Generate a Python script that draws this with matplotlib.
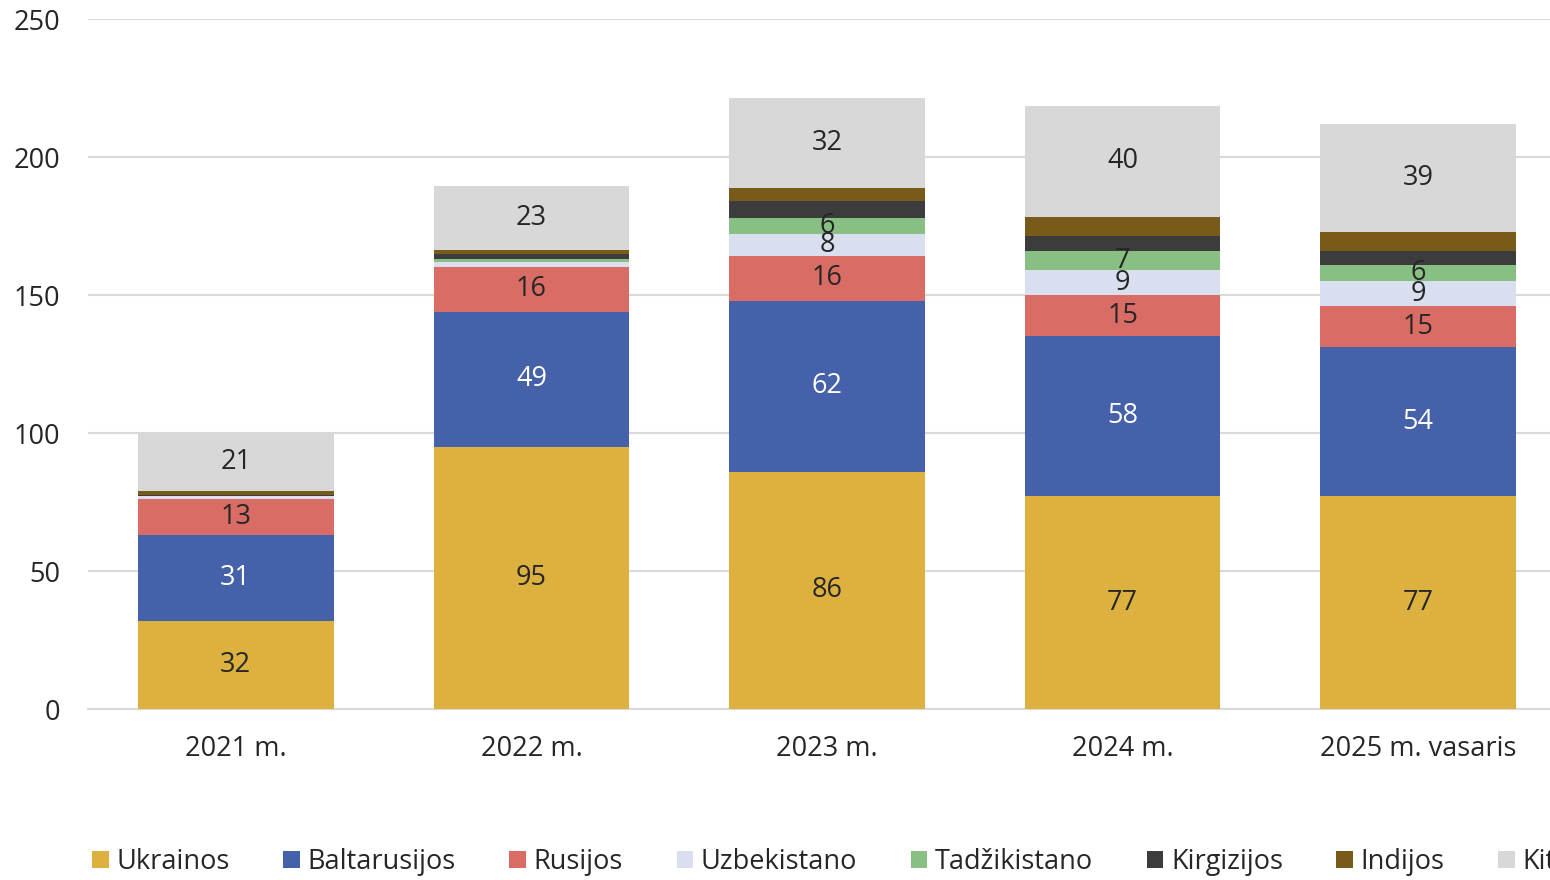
import matplotlib.pyplot as plt
import numpy as np

plt.rcParams['font.family'] = ['Open Sans', 'DejaVu Sans']

years = ['2021 m.', '2022 m.', '2023 m.', '2024 m.', '2025 m. vasaris']
series_names = ['Ukrainos', 'Baltarusijos', 'Rusijos', 'Uzbekistano',
                'Tadžikistano', 'Kirgizijos', 'Indijos', 'Kitos']

ukrainos = [32, 95, 86, 77, 77]
baltarusijos = [31, 49, 62, 58, 54]
rusijos = [13, 16, 16, 15, 15]
uzbekistano = [1.0, 1.8, 8, 9, 9]
tadzikistano = [0.3, 1.4, 6, 7, 6]
kirgizijos = [0.2, 1.8, 6, 5.2, 4.8]
indijos = [1.5, 1.4, 4.8, 7.2, 7]
kitos = [21, 23, 32.4, 40, 39]

values = [ukrainos, baltarusijos, rusijos, uzbekistano,
          tadzikistano, kirgizijos, indijos, kitos]
colors = ['#DCB13F', '#4561A9', '#D96C64', '#D9DFEF',
          '#88BF82', '#3C3C3C', '#795B19', '#D8D8D8']
label_colors = ['#262626', 'white', '#262626', '#262626',
                '#262626', None, None, '#262626']

fs = 19.5

fig = plt.figure(figsize=(15.5, 8.8), dpi=100)
ax = fig.add_axes([88 / 1550, 1 - 709 / 880, 1478 / 1550, 690 / 880])

x = np.arange(len(years))
bottom = np.zeros(len(years))
handles = []
for name, vals, col, lcol in zip(series_names, values, colors, label_colors):
    vals = np.array(vals, dtype=float)
    bars = ax.bar(x, vals, 0.662, bottom=bottom, color=col, label=name, zorder=3)
    handles.append(bars)
    # only the larger segments carry labels, like the original
    if lcol is not None:
        for xi, b, v in zip(x, bottom, vals):
            if v >= 5:
                ax.text(xi, b + v / 2, f'{v:.0f}', ha='center', va='center',
                        fontsize=fs, color=lcol, zorder=4)
    bottom += vals

ax.set_xlim(-0.5, 4.5)
ax.set_ylim(0, 250)
ax.set_yticks(range(0, 251, 50))
ax.set_xticks(x)
ax.set_xticklabels(years)
ax.yaxis.grid(True, color='#D9D9D9', lw=1.5, zorder=0)
for s in ['left', 'right', 'top']:
    ax.spines[s].set_visible(False)
ax.spines['bottom'].set_color('#D9D9D9')
ax.spines['bottom'].set_linewidth(1.5)
ax.tick_params(axis='both', length=0, labelsize=fs, colors='#262626')
ax.tick_params(axis='y', pad=20)
ax.tick_params(axis='x', pad=19)

fig.legend(handles, series_names, loc='center left', bbox_to_anchor=(68 / 1550, 1 - 862 / 880),
           ncol=8, frameon=False, fontsize=fs, handlelength=0.62, handleheight=0.62,
           handletextpad=0.28, columnspacing=1.97, labelcolor='#262626')

fig.savefig('out.png', dpi=100)
